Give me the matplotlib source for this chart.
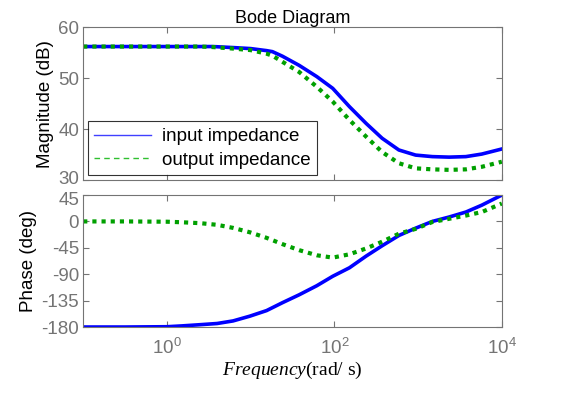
import matplotlib
matplotlib.use("Agg")
import matplotlib.pyplot as plt
import matplotlib.transforms as mtransforms
from matplotlib.lines import Line2D
from matplotlib.ticker import FixedLocator, NullLocator

plt.rcParams["font.family"] = ["Liberation Sans", "DejaVu Sans"]
plt.rcParams["mathtext.fontset"] = "custom"
plt.rcParams["mathtext.rm"] = "Liberation Serif"
plt.rcParams["mathtext.it"] = "Liberation Serif:italic"
plt.rcParams["axes.unicode_minus"] = False

mag_logw = [-1.0, 0.0, 0.4, 0.55, 0.79, 1.0, 1.19, 1.26, 1.38, 1.58, 1.79, 1.98,
            2.18, 2.38, 2.57, 2.77, 2.97, 3.17, 3.37, 3.57, 3.76, 4.0]
mag_in = [56.2, 56.2, 56.2, 56.2, 56.0, 55.8, 55.4, 55.2, 54.3, 52.5, 50.3, 48.0,
          44.4, 41.1, 38.2, 35.9, 34.9, 34.6, 34.5, 34.6, 35.1, 36.1]
mag_out = [56.2, 56.2, 56.2, 56.1, 55.8, 55.5, 54.8, 54.4, 53.2, 51.2, 48.3, 45.4,
           41.8, 38.5, 35.5, 33.3, 32.3, 32.1, 32.0, 32.1, 32.6, 33.6]

ph_logw = [-1.0, -0.5, 0.0, 0.19, 0.4, 0.6, 0.79, 0.99, 1.19, 1.38, 1.58, 1.79,
           1.98, 2.18, 2.38, 2.57, 2.77, 2.97, 3.17, 3.37, 3.57, 3.76, 4.0]
ph_in = [-180, -180, -179.5, -178, -176, -174, -169.6, -161.5, -152, -138.5, -125,
         -109.6, -93.5, -79, -59, -41.5, -24, -11.5, 0, 7.5, 16, 27.7, 45]
ph_out = [0, 0, -0.5, -1.5, -3, -5.8, -11, -18.5, -28, -38.7, -49, -57.7,
          -61.7, -56, -46, -34.6, -21, -12.7, -1, 4.5, 10, 16, 30.5]

mag_w = [10 ** v for v in mag_logw]
ph_w = [10 ** v for v in ph_logw]

BLUE = "#0000ff"
GREEN = "#00a000"
GREY = "#747474"

fig = plt.figure(figsize=(5.62, 3.94), dpi=100)
ax1 = fig.add_axes([0.148, 0.543, 0.745, 0.388])
ax2 = fig.add_axes([0.148, 0.170, 0.745, 0.335])

ax1.plot(mag_w, mag_in, color=BLUE, lw=2.6)
ax1.plot(mag_w, mag_out, color=GREEN, lw=3, ls=(0, (1, 1.2)))
ax2.plot(ph_w, ph_in, color=BLUE, lw=2.6)
ax2.plot(ph_w, ph_out, color=GREEN, lw=3, ls=(0, (1, 1.2)))

for ax in (ax1, ax2):
    ax.set_xscale("log")
    ax.set_xlim(0.1, 1e4)
    ax.xaxis.set_major_locator(FixedLocator([1, 100, 1e4]))
    ax.xaxis.set_minor_locator(NullLocator())
    ax.tick_params(direction="in", top=True, right=True, colors=GREY,
                   labelsize=13.5, length=4, width=0.8)
    ax.tick_params(axis="x", pad=8)
    ax.tick_params(axis="y", pad=3)
    for s in ax.spines.values():
        s.set_color(GREY)
        s.set_linewidth(0.8)

ax1.set_ylim(30, 60)
ax1.set_yticks([30, 40, 50, 60])
ax1.tick_params(labelbottom=False)
ax1.set_ylabel("Magnitude (dB)", fontsize=13.5, color="black", labelpad=3)
ax1.set_title("Bode Diagram", fontsize=13, pad=2)

ax2.set_ylim(-180, 45)
ax2.set_yticks([-180, -135, -90, -45, 0, 45])
ax2.set_ylabel("Phase (deg)", fontsize=13.5, color="black", labelpad=3)
ax2.set_xlabel(r"$\mathit{Frequency}$(rad/ s)", fontsize=14,
               family="Liberation Serif", labelpad=1)

# the "30" and "45" labels sit right next to each other across the gap
fig.canvas.draw()
up = mtransforms.ScaledTranslation(0, 3 / 100, fig.dpi_scale_trans)
down = mtransforms.ScaledTranslation(0, -3 / 100, fig.dpi_scale_trans)
lab30 = ax1.get_yticklabels()[0]
lab30.set_transform(lab30.get_transform() + up)
lab45 = ax2.get_yticklabels()[-1]
lab45.set_transform(lab45.get_transform() + down)

handles = [Line2D([], [], color="#4040ff", lw=1),
           Line2D([], [], color="#30c030", lw=1, ls=(0, (4, 3)))]
leg = ax1.legend(handles, ["input impedance", "output impedance"],
                 loc="lower left", fontsize=13.5, frameon=True, fancybox=False,
                 edgecolor="black", borderaxespad=0.25, handlelength=3.0,
                 labelspacing=0.35, borderpad=0.35, handletextpad=0.6)
leg.get_frame().set_linewidth(0.8)

fig.savefig("out.png", dpi=100)
